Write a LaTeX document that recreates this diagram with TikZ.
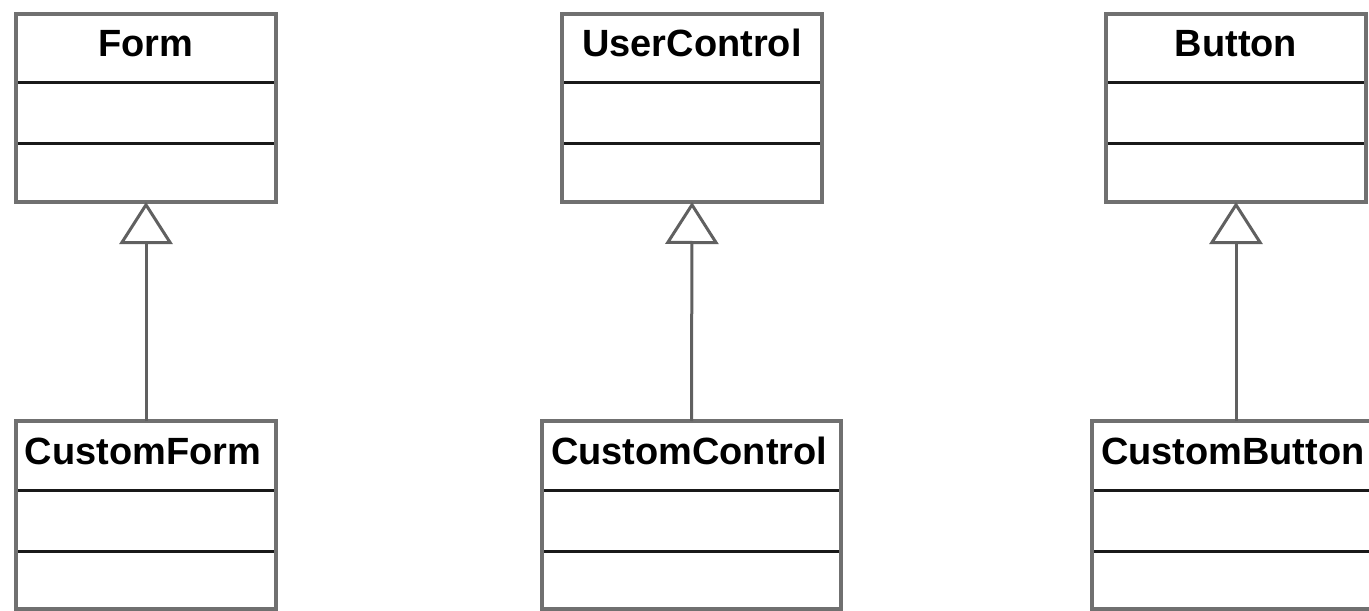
\documentclass[tikz,border=0pt]{standalone}
\usepackage{fontspec}
\setmainfont{Liberation Sans}
\usetikzlibrary{arrows.meta, positioning}

\begin{document}
\begin{tikzpicture}[
  >=Stealth,
  part/.style={rectangle, inner sep=0pt, outer sep=0pt, minimum width=#1},
  title/.style={part=#1, minimum height=1.38cm, text height=0.54cm,
                text depth=0.2cm, font=\fontsize{21.6}{24}\selectfont\bfseries},
  ltitle/.style={title=#1, inner xsep=0.18cm, text width=#1-0.36cm,
                 align=left},
  attr/.style={part=#1, minimum height=1.22cm},
  oper/.style={part=#1, minimum height=1.16cm},
  frame/.style={draw={rgb,255:red,112;green,112;blue,112}, line width=0.085cm},
  sep/.style={draw=black!90, line width=0.06cm},
  inherit/.style={draw={rgb,255:red,96;green,96;blue,96}, line width=0.06cm,
                  -{Triangle[open, length=0.84cm, width=1.06cm]}}
]
\useasboundingbox (0,0) rectangle (27.38,12.2);

%% ---- base classes ----
\node[title=5.2cm, anchor=north] (formT) at (2.92, 11.92) {Form};
\node[attr=5.2cm, below=0pt of formT] (formA) {};
\node[oper=5.2cm, below=0pt of formA] (formO) {};

\node[title=5.2cm, anchor=north] (ucT) at (13.84, 11.92) {UserControl};
\node[attr=5.2cm, below=0pt of ucT] (ucA) {};
\node[oper=5.2cm, below=0pt of ucA] (ucO) {};

\node[title=5.2cm, anchor=north] (btnT) at (24.72, 11.92) {Button};
\node[attr=5.2cm, below=0pt of btnT] (btnA) {};
\node[oper=5.2cm, below=0pt of btnA] (btnO) {};

%% ---- derived classes ----
\node[ltitle=5.2cm, anchor=north] (cformT) at (2.92, 3.78) {CustomForm};
\node[attr=5.2cm, below=0pt of cformT] (cformA) {};
\node[oper=5.2cm, below=0pt of cformA] (cformO) {};

\node[ltitle=5.98cm, anchor=north] (cctlT) at (13.83, 3.78) {CustomControl};
\node[attr=5.98cm, below=0pt of cctlT] (cctlA) {};
\node[oper=5.98cm, below=0pt of cctlA] (cctlO) {};

\node[ltitle=5.76cm, anchor=north] (cbtnT) at (24.72, 3.78) {CustomButton};
\node[attr=5.76cm, below=0pt of cbtnT] (cbtnA) {};
\node[oper=5.76cm, below=0pt of cbtnA] (cbtnO) {};

%% ---- compartments ----
\foreach \c in {form, uc, btn, cform, cctl, cbtn} {
  \draw[sep] (\c T.south west) -- (\c T.south east);
  \draw[sep] (\c A.south west) -- (\c A.south east);
  \draw[frame] (\c T.north west) rectangle (\c O.south east);
}

%% ---- generalisation ----
\draw[inherit] (cformT.north) -- (formO.south);
\draw[inherit] (cctlT.north) -- (ucO.south);
\draw[inherit] (cbtnT.north) -- (btnO.south);

\end{tikzpicture}
\end{document}
